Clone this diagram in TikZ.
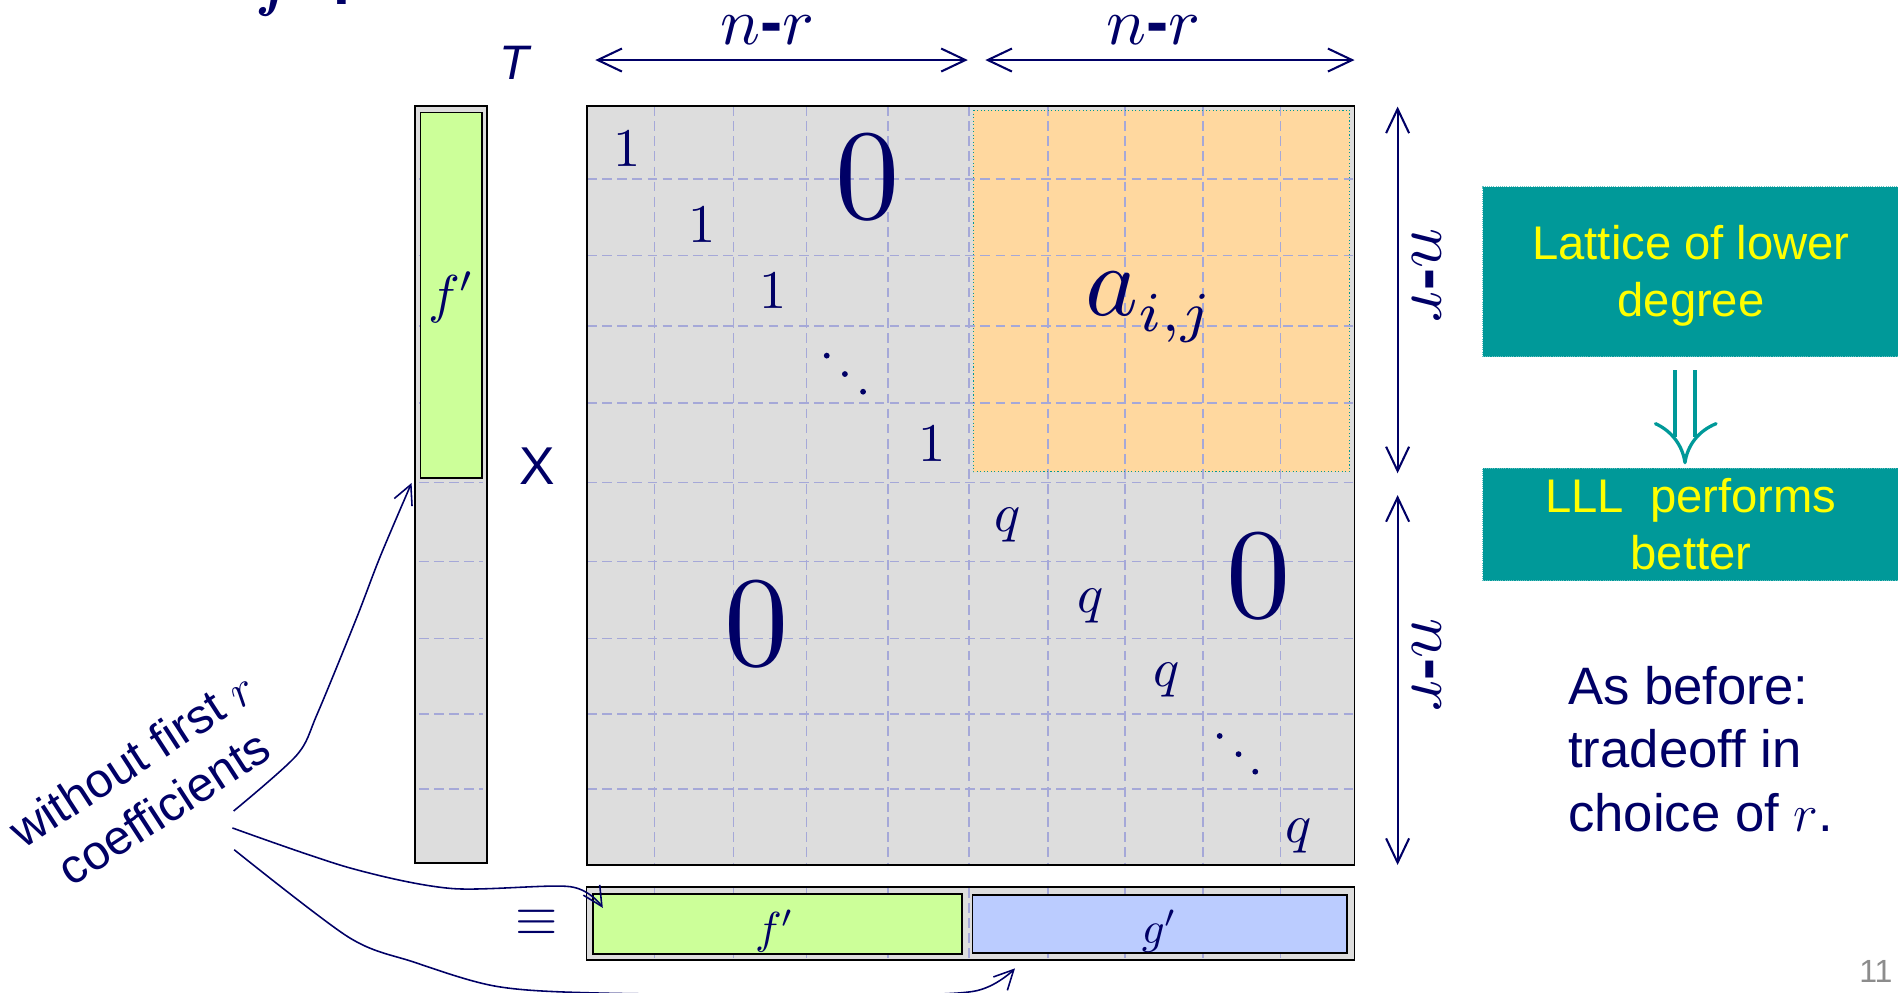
\RequirePackage{fix-cm}
\documentclass[tikz,border=0pt]{standalone}
\usepackage{amsmath}
\usepackage{graphicx}
\usepackage[no-math]{fontspec}
\setmainfont{Liberation Sans}
\usetikzlibrary{arrows.meta}
\definecolor{navy}{HTML}{000066}
\definecolor{cellgray}{HTML}{DDDDDD}
\definecolor{peach}{HTML}{FFD89F}
\definecolor{lgreen}{HTML}{CCFF99}
\definecolor{lblue}{HTML}{BBCCFF}
\definecolor{tealc}{HTML}{009999}
\definecolor{gridc}{HTML}{A5A8D8}
\definecolor{yel}{HTML}{FFFF00}
\definecolor{pagegray}{HTML}{8C8C8C}
\newcommand{\fsz}[2]{\fontsize{#1}{#2}\selectfont}
\newcommand{\sm}[2]{\scalebox{#1}{$#2$}}
\newcommand{\nminr}{$n$\textbf{-}$r$}
\begin{document}
\begin{tikzpicture}[x=1pt,y=-1pt,
  every node/.style={inner sep=0pt, outer sep=0pt},
  gridline/.style={gridc, line width=1.3pt, dash pattern=on 8pt off 4.5pt},
  dimarrow/.style={navy, line width=1.7pt, {Straight Barb[length=20pt,width=19pt]}-{Straight Barb[length=20pt,width=19pt]}},
  notearrow/.style={navy, line width=1.3pt, -{Straight Barb[length=16pt,width=16pt]}},
  cellbox/.style={draw=black, line width=1.6pt, fill=cellgray},
  inbox/.style={draw=black, line width=1.5pt},
  tealbox/.style={fill=tealc, draw=tealc!60!white, densely dotted, line width=0.8pt},
  navytext/.style={text=navy}]
\useasboundingbox (0,0) rectangle (1568,820);
\clip (0,0) rectangle (1568,820);

% clipped title fragments
\node[navytext, anchor=base] (ttlf) at (228,4) {\sm{5}{\boldsymbol{f}}};
\node[navytext, font={\fsz{50}{60}\bfseries}, anchor=base] (ttld) at (282.5,4.1) {.};

% main matrix
\node[cellbox, minimum width=634pt, minimum height=627pt] (M) at (802,401.1) {};
\node[fill=peach, minimum width=311pt, minimum height=298.7pt] (O) at (959.5,240.35) {};
\foreach \gx in {540.6,606,666.3,733.6,800.5,865.8,929.4,994,1058}
  \draw[gridline] (\gx,87.6) -- (\gx,714.6);
\foreach \gy in {148,211,269.3,332.7,398.7,464,527.3,589.8,651.8}
  \draw[gridline] (485,\gy) -- (1119,\gy);
\draw[tealc, dotted, line width=0.9pt] (O.north west) rectangle (O.south east);
\draw[black, line width=1.6pt] (M.north west) rectangle (M.south east);

% entries
\node[navytext] (one1) at (518,123.3) {\sm{4.5}{1}};
\node[navytext] (one2) at (580,186) {\sm{4.5}{1}};
\node[navytext] (one3) at (638.7,240.5) {\sm{4.5}{1}};
\node[navytext] (one4) at (770,367) {\sm{4.5}{1}};
\node[navytext] (zeroA) at (716.6,146.6) {\sm{10.6}{0}};
\node[navytext] (zeroB) at (624.8,515.7) {\sm{10.6}{0}};
\node[navytext] (zeroC) at (1040,476) {\sm{10.6}{0}};
\node[navytext] (q1) at (832.6,434) {\sm{4.5}{q}};
\node[navytext] (q2) at (901,500.8) {\sm{4.5}{q}};
\node[navytext] (q3) at (964,561.7) {\sm{4.5}{q}};
\node[navytext] (q4) at (1073,691) {\sm{4.5}{q}};
\node[navytext, anchor=base west] (aij) at (897,261) {\sm{8.3}{a_{\scalebox{0.8}{$\scriptstyle i,j$}}}};
\fill[navy] (683,293.8) circle (2.4) (698,309) circle (2.4) (713,323.6) circle (2.4);
\fill[navy] (1007.6,608) circle (2.4) (1023.2,623) circle (2.4) (1037,637.5) circle (2.4);

% left vector
\node[cellbox, minimum width=59pt, minimum height=625.1pt] (lvec) at (372.5,400.15) {};
\foreach \gy in {148,211,269.3,332.7,398.7,464,527.3,589.8,651.8}
  \draw[gridline] (346,\gy) -- (399,\gy);
\node[inbox, fill=lgreen, minimum width=51pt, minimum height=302pt] (fvg) at (372.9,244) {};
\node[navytext, anchor=base] (fvt) at (373,258) {\sm{4.4}{f'}};
\node[navytext, font={\fsz{44}{52}}] (xsym) at (443.6,385) {X};
\node[navytext, font={\fsz{40}{48}\itshape}] (tt) at (425,51.5) {T};

% bottom vector
\node[cellbox, minimum width=634.5pt, minimum height=60.5pt] (bvec) at (801.75,762.75) {};
\foreach \gx in {540.6,606,666.3,733.6,800.5,865.8,929.4,994,1058}
  \draw[gridline] (\gx,733.5) -- (\gx,792);
\node[inbox, fill=lgreen, minimum width=304.7pt, minimum height=49.4pt] (bfg) at (642.35,763.3) {};
\node[inbox, fill=lblue, minimum width=309.1pt, minimum height=48.1pt] (bgb) at (957.95,763.45) {};
\node[navytext, anchor=base] (bft) at (640,779.6) {\sm{3.7}{f'}};
\node[navytext, anchor=base] (bgt) at (958,779.6) {\sm{3.7}{g'}};
\node[navytext] (eqv) at (443,762.3) {\sm{4.5}{\equiv}};

% dimension arrows
\coordinate (ta1) at (491.8,49.6);
\coordinate (ta2) at (799.5,49.6);
\coordinate (ta3) at (814,49.6);
\coordinate (ta4) at (1119,49.6);
\draw[dimarrow] (ta1) -- (ta2);
\draw[dimarrow] (ta3) -- (ta4);
\node[navytext, anchor=base] (tl1) at (634,37) {\scalebox{5.5}{\nminr}};
\node[navytext, anchor=base] (tl2) at (953,37) {\scalebox{5.5}{\nminr}};
\coordinate (ra1) at (1154.6,88);
\coordinate (ra2) at (1154.6,391);
\coordinate (ra3) at (1154.6,409);
\coordinate (ra4) at (1154.6,714.6);
\draw[dimarrow] (ra1) -- (ra2);
\draw[dimarrow] (ra3) -- (ra4);
\node[navytext, rotate=-90] (rl1) at (1179,228) {\scalebox{5.5}{\nminr}};
\node[navytext, rotate=-90] (rl2) at (1179,550) {\scalebox{5.5}{\nminr}};

% right side boxes
\node[tealbox, minimum width=344pt, minimum height=140.5pt] (lat) at (1397,224.45) {};
\node[text=yel, font={\fsz{39}{46.8}}, align=center] (latt) at (1397,228) {Lattice of lower\\degree};
\node[tealbox, minimum width=344pt, minimum height=92.8pt, text=yel, font={\fsz{39}{46.9}}, align=center] (lll) at (1397,433.3) {LLL\ \ performs\\better};
\draw[tealc, line width=2.7pt] (1383.7,305.7) -- (1383.7,361) (1400.2,305.7) -- (1400.2,361);
\draw[tealc, line width=2.7pt, line cap=round, line join=round] (1367.6,350) .. controls (1381,356) and (1390,368) .. (1392,382.2) .. controls (1394,368) and (1403,356) .. (1417.7,350);

\node[navytext, font={\fsz{43.5}{52.3}}, align=left, anchor=west] (asb) at (1295.6,618.8) {As before:\\tradeoff in\\choice of $r$.};
\node[text=pagegray, font={\fsz{26.5}{32}}, anchor=base east] (pg) at (1563.5,812) {11};

% annotation
\node[navytext, font={\fsz{40}{48}}, align=center, rotate=33] (note) at (122,647) {without first $r$\\coefficients};
\coordinate (n1) at (193,670);
\coordinate (n2) at (192,684);
\coordinate (n3) at (193.5,702);
\coordinate (t1) at (340,399);
\coordinate (t2) at (498,750);
\coordinate (t3) at (838.5,800);
\draw[notearrow] plot[smooth, tension=0.5] coordinates {(n1) (245,624) (262,590) (294,512) (314,460) (t1)};
\draw[notearrow] plot[smooth, tension=0.5] coordinates {(n2) (289,717) (373,734) (471,732.5) (t2)};
\draw[notearrow] plot[smooth, tension=0.5] coordinates {(n3) (287.6,774) (341,794.5) (411,815) (500,820.5) (700,822) (804,819) (t3)};
\end{tikzpicture}
\end{document}
